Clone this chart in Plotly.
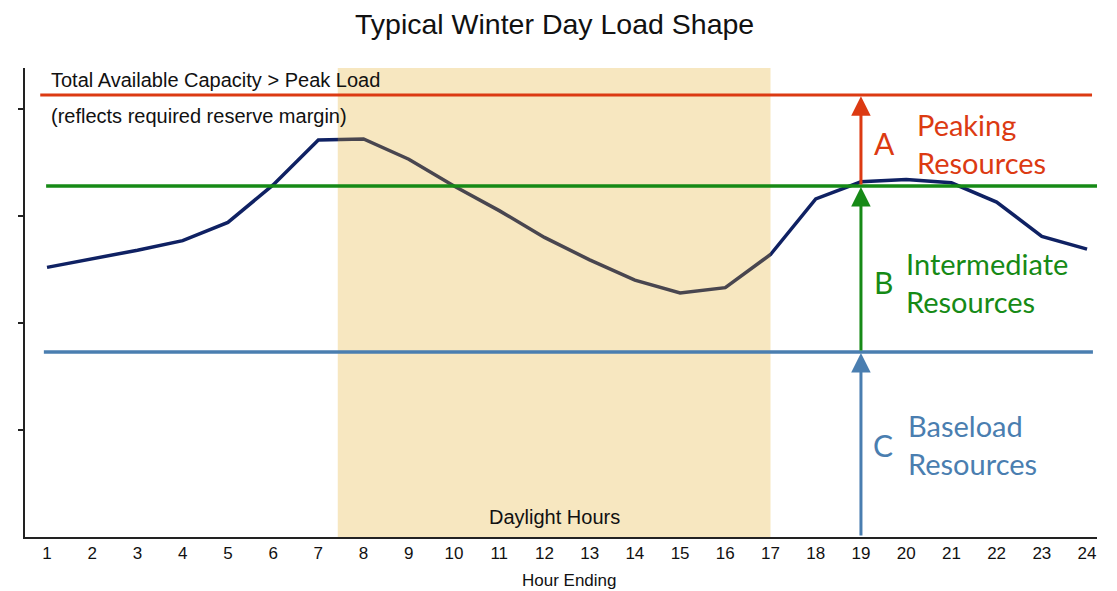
import plotly.graph_objects as go

hours = list(range(1, 25))
load = [2.52, 2.60, 2.68, 2.77, 2.94, 3.29, 3.71, 3.72, 3.53, 3.28, 3.05, 2.80,
        2.59, 2.40, 2.28, 2.33, 2.64, 3.16, 3.32, 3.34, 3.31, 3.13, 2.81, 2.69]
tick_labels = [str(h) for h in hours]

peak_capacity = 4.13      # red line
intermediate_level = 3.28  # green line
baseload_level = 1.73      # blue line
daylight_start, daylight_end = 7.43, 17.0
arrow_hour = 19

NAVY = "#0F2163"
RED = "#DC3A12"
GREEN = "#168A16"
BLUE = "#4A7EB0"
FONT_LBL = "Lato"

fig = go.Figure()
fig.add_trace(go.Scatter(x=hours, y=load, mode="lines",
                         line=dict(color=NAVY, width=3.5), hoverinfo="skip",
                         showlegend=False))

# daylight shade (semi transparent over the curve)
fig.add_shape(type="rect", xref="x", yref="y", x0=daylight_start, x1=daylight_end,
              y0=0, y1=4.383, fillcolor="rgb(226,169,30)", opacity=0.28,
              line=dict(width=0), layer="above")
# horizontal capacity lines
fig.add_shape(type="line", xref="x", yref="y", x0=0.85, x1=24.11,
              y0=peak_capacity, y1=peak_capacity, line=dict(color=RED, width=3), layer="above")
fig.add_shape(type="line", xref="x", yref="y", x0=0.98, x1=24.22,
              y0=intermediate_level, y1=intermediate_level, line=dict(color=GREEN, width=3.5), layer="above")
fig.add_shape(type="line", xref="x", yref="y", x0=0.93, x1=24.13,
              y0=baseload_level, y1=baseload_level, line=dict(color=BLUE, width=3.5), layer="above")

# arrows
for y0, y1, col in [(intermediate_level, peak_capacity - 0.01, RED),
                    (baseload_level, intermediate_level - 0.01, GREEN),
                    (0, baseload_level - 0.01, BLUE)]:
    fig.add_annotation(x=arrow_hour, y=y1, ax=arrow_hour, ay=y0, xref="x", yref="y",
                       axref="x", ayref="y", showarrow=True, arrowhead=2,
                       arrowsize=1.3, arrowwidth=3, arrowcolor=col, standoff=0, text="")

# resource labels
labels = [
    ("A", "Peaking<br>Resources", RED, 19.53, 20.20, 3.68),
    ("B", "Intermediate<br>Resources", GREEN, 19.49, 19.96, 2.38),
    ("C", "Baseload<br>Resources", BLUE, 19.49, 20.00, 0.86),
]
for letter, txt, col, lx, tx, yy in labels:
    fig.add_annotation(x=lx, y=yy, xref="x", yref="y", text=letter, showarrow=False,
                       font=dict(family=FONT_LBL, size=30, color=col), xanchor="center")
    fig.add_annotation(x=tx, y=yy, xref="x", yref="y", text=txt, showarrow=False,
                       align="left", xanchor="left",
                       font=dict(family=FONT_LBL, size=29, color=col))

fig.add_annotation(x=1.05, y=4.275, xref="x", yref="y", text="Total Available Capacity > Peak Load",
                   showarrow=False, xanchor="left",
                   font=dict(family="Liberation Sans", size=20, color="#111"))
fig.add_annotation(x=1.05, y=3.935, xref="x", yref="y", text="(reflects required reserve margin)",
                   showarrow=False, xanchor="left",
                   font=dict(family="Liberation Sans", size=20, color="#111"))
fig.add_annotation(x=(daylight_start + daylight_end) / 2, y=0.19, xref="x", yref="y",
                   text="Daylight Hours", showarrow=False,
                   font=dict(family="Liberation Sans", size=20, color="#111"))
fig.add_annotation(x=0.508, y=-0.068, xref="paper", yref="paper", yanchor="top",
                   text="Hour Ending", showarrow=False,
                   font=dict(family="Liberation Sans", size=17, color="#111"))

# title as a paper annotation anchored inside the figure
fig.add_annotation(x=0.494, y=1, xref="paper", yref="paper", yanchor="bottom",
                   yshift=26, text="Typical Winter Day Load Shape", showarrow=False,
                   font=dict(family="Liberation Sans", size=28.5, color="#111"))

fig.update_layout(
    width=1109, height=583,
    margin=dict(l=17, r=20, t=60, b=54),
    paper_bgcolor="white", plot_bgcolor="white",
    showlegend=False,
    xaxis=dict(range=[0.513, 24.22], tickmode="array", tickvals=hours, ticktext=tick_labels,
               showgrid=False, zeroline=False, showline=True, linecolor="#222", linewidth=2,
               ticks="", tickfont=dict(family="Liberation Sans", size=17, color="#111"),
               fixedrange=True),
    yaxis=dict(range=[0, 4.383], tickvals=[1, 2, 3, 4], showticklabels=False,
               showgrid=False, zeroline=False, showline=True, linecolor="#222", linewidth=2,
               ticks="outside", ticklen=5, tickwidth=2, tickcolor="#222", fixedrange=True),
)

fig.write_html("out.html")
